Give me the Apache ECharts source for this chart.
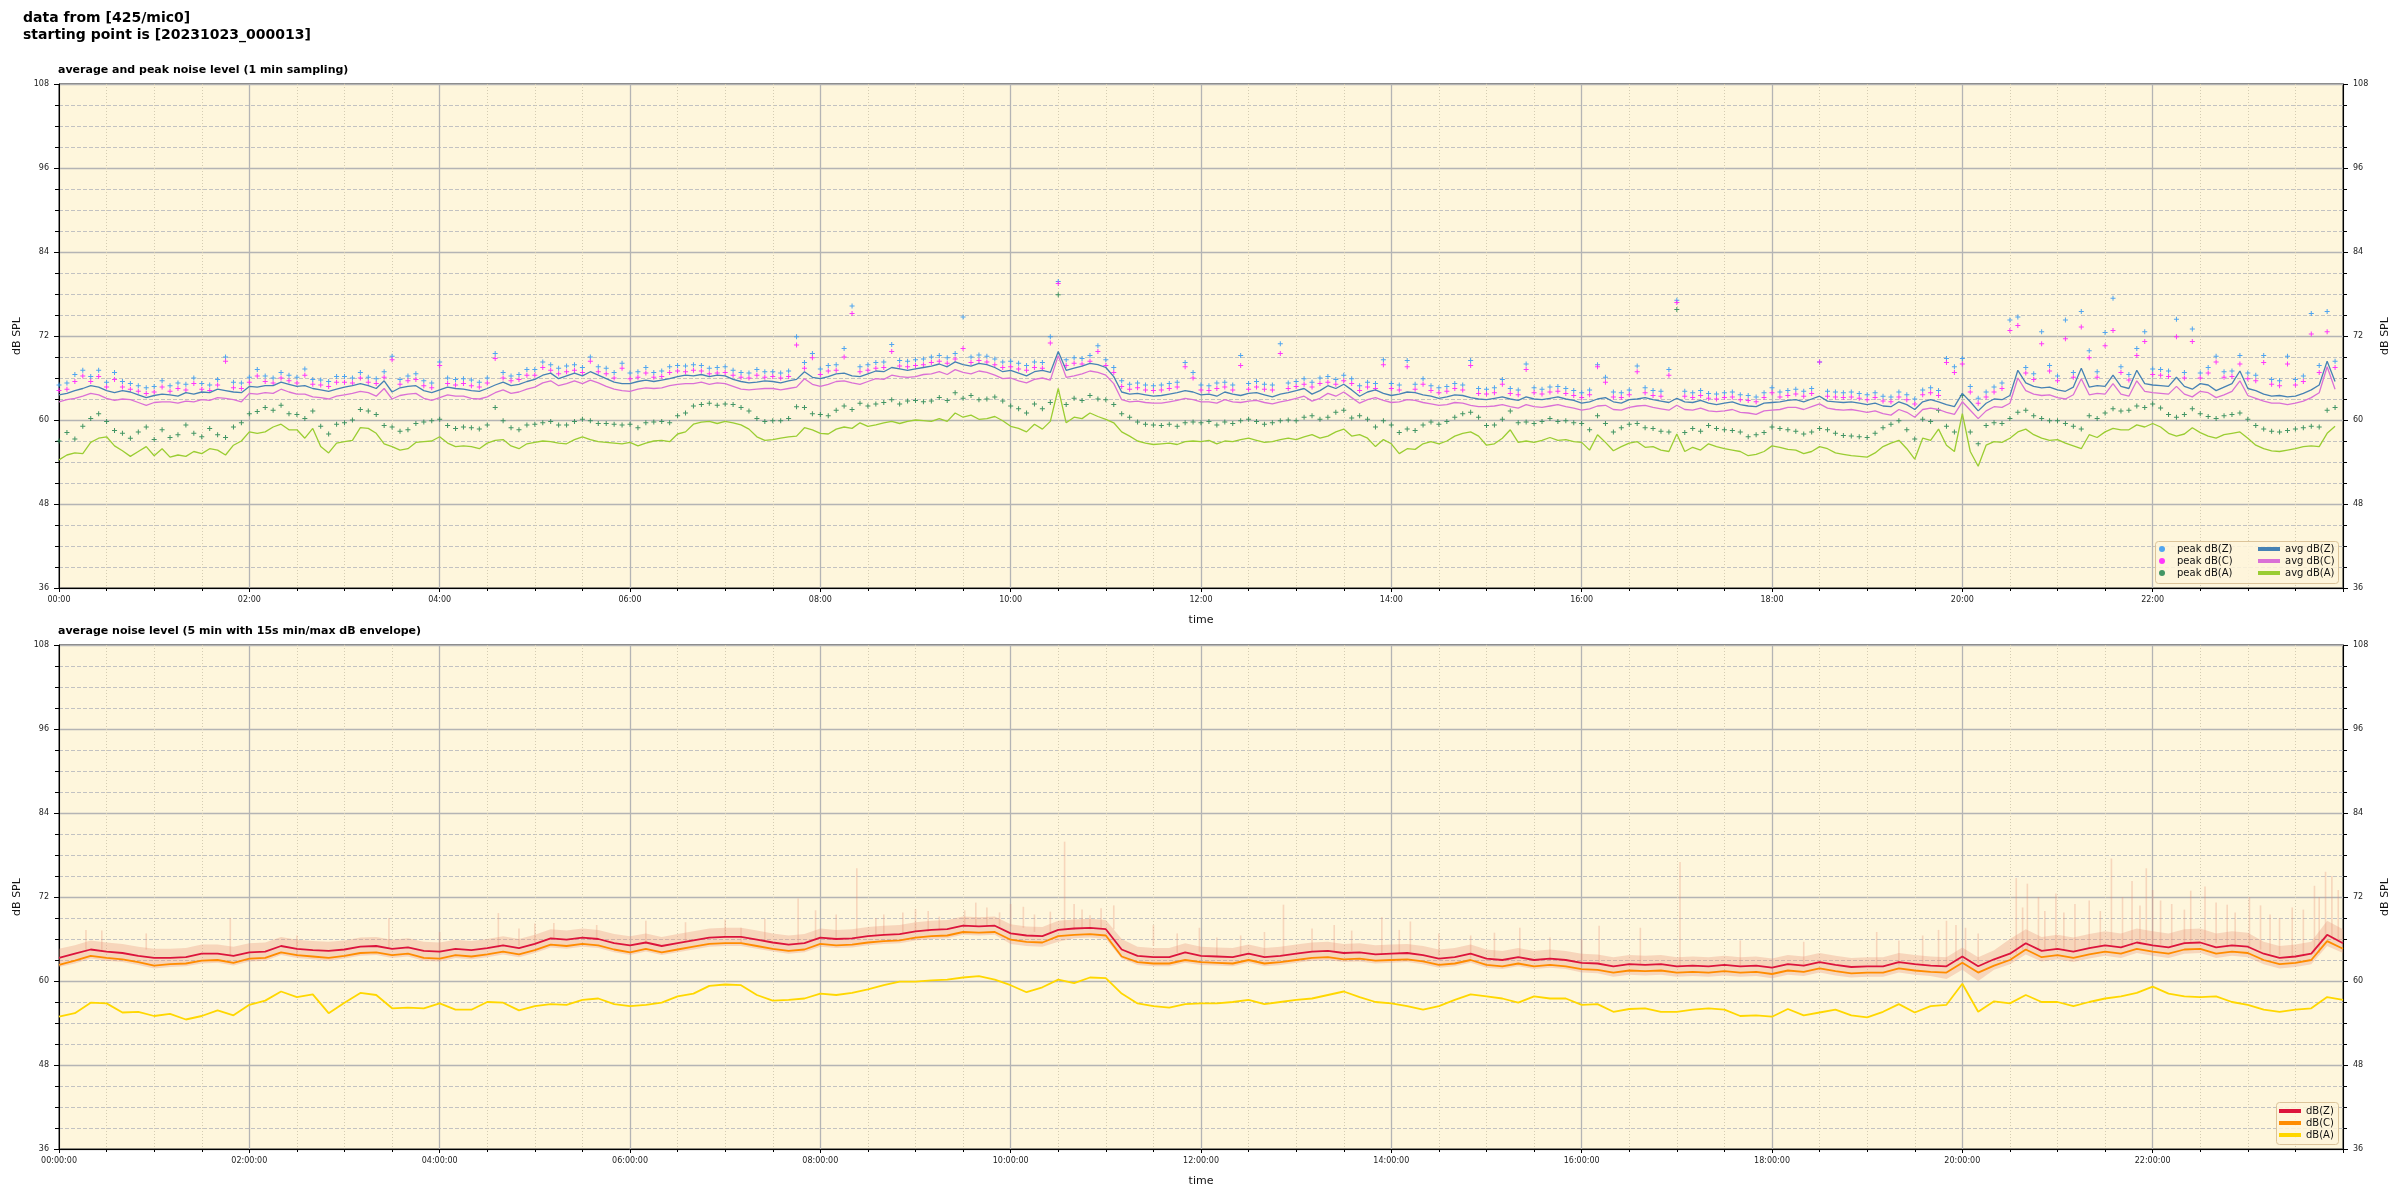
<!DOCTYPE html>
<html><head><meta charset="utf-8">
<script src="https://cdn.jsdelivr.net/npm/echarts@6/dist/echarts.min.js"></script>
<style>html,body{margin:0;padding:0;background:#fff}#chart{width:2400px;height:1200px}</style>
</head><body><div id="chart"></div>
<script>
// ---------- top panel (1 min sampling, read every 5 min) ----------
const avgZ = [63.6,63.8,64.2,64.5,64.9,64.7,64.2,63.9,64.2,64.0,63.6,63.2,
63.5,63.7,63.6,63.4,63.9,63.7,64.0,63.9,64.4,64.2,64.0,63.9,
64.8,64.7,64.9,64.9,65.4,65.1,64.8,64.9,64.5,64.3,64.1,64.4,
64.7,64.9,65.2,64.9,64.5,65.6,64.0,64.6,64.8,64.9,64.2,63.9,
64.3,64.7,64.5,64.4,64.2,64.1,64.5,65.0,65.4,64.9,65.1,65.5,
65.8,66.4,66.7,65.9,66.3,66.7,66.3,66.9,66.4,65.9,65.4,65.2,
65.2,65.5,65.7,65.5,65.7,65.9,66.2,66.4,66.3,66.5,66.2,66.4,
66.3,65.8,65.5,65.3,65.4,65.6,65.5,65.3,65.6,65.8,66.9,66.1,
65.9,66.2,66.6,66.7,66.3,66.2,66.6,67.0,66.9,67.5,67.3,67.1,
67.3,67.5,67.7,68.0,67.6,68.3,67.9,67.7,68.1,67.9,67.5,66.9,
67.1,66.7,66.3,66.9,67.1,66.8,69.8,67.1,67.4,67.7,68.1,67.9,
67.5,66.2,64.0,63.7,63.8,63.6,63.4,63.5,63.7,63.9,64.2,64.0,
63.6,63.7,63.4,64.0,63.7,63.5,63.8,63.9,63.6,63.3,63.7,63.9,
64.2,64.5,63.7,64.2,64.9,64.5,65.1,64.3,63.4,64.0,64.3,63.8,
63.5,63.7,64.0,63.9,63.6,63.4,63.1,63.3,63.6,63.5,63.2,63.0,
62.9,63.1,63.3,63.0,62.8,63.3,63.0,62.9,63.1,63.3,63.0,62.8,
62.4,62.6,63.0,63.2,62.6,62.4,62.9,63.0,63.2,62.9,62.7,62.5,
63.1,62.6,62.5,62.8,62.4,62.2,62.4,62.6,62.2,62.0,61.9,62.4,
62.5,62.6,62.8,62.9,62.6,63.0,63.4,62.7,62.6,62.5,62.6,62.4,
62.2,62.4,62.0,61.9,62.6,62.2,61.5,62.6,62.9,62.6,62.2,61.9,
63.8,62.6,61.3,62.4,63.0,62.9,63.5,67.1,65.3,64.8,64.6,64.7,
64.3,64.1,64.7,67.4,64.7,64.9,64.8,66.4,64.8,64.5,67.1,65.2,
65.0,64.9,64.8,66.1,64.8,64.4,65.2,65.0,64.2,64.7,65.2,67.0,
64.5,64.2,63.7,63.4,63.5,63.3,63.4,63.8,64.3,65.0,68.4,65.5];

const avgC = [62.6,62.9,63.1,63.4,63.8,63.6,63.1,62.8,63.0,62.9,62.5,62.1,
62.5,62.6,62.6,62.4,62.7,62.6,62.9,62.8,63.2,63.1,62.9,62.6,
63.8,63.7,63.9,63.8,64.4,64.0,63.7,63.7,63.3,63.2,63.0,63.4,
63.6,63.8,64.1,63.9,63.4,64.5,63.0,63.5,63.7,63.8,63.1,62.8,
63.2,63.6,63.4,63.4,63.1,63.0,63.3,63.9,64.3,63.8,64.0,64.4,
64.7,65.3,65.6,64.9,65.2,65.6,65.2,65.7,65.3,64.8,64.4,64.2,
64.1,64.4,64.6,64.5,64.6,64.9,65.1,65.2,65.2,65.4,65.1,65.3,
65.2,64.8,64.4,64.3,64.4,64.5,64.5,64.3,64.5,64.7,65.9,65.1,
64.8,65.1,65.5,65.6,65.3,65.1,65.5,65.9,65.8,66.4,66.2,66.1,
66.2,66.5,66.6,66.9,66.5,67.2,66.8,66.6,67.0,66.8,66.4,65.9,
66.0,65.6,65.3,65.8,66.0,65.7,69.2,66.1,66.3,66.6,67.0,66.8,
66.4,65.2,62.9,62.6,62.7,62.5,62.4,62.4,62.6,62.8,63.1,62.9,
62.6,62.6,62.4,62.9,62.6,62.5,62.7,62.8,62.5,62.3,62.6,62.8,
63.1,63.4,62.7,63.1,63.8,63.4,64.0,63.2,62.4,62.9,63.2,62.8,
62.5,62.6,62.9,62.8,62.5,62.3,62.1,62.2,62.5,62.4,62.1,61.9,
61.9,62.0,62.2,61.9,61.7,62.2,61.9,61.8,62.0,62.2,61.9,61.7,
61.4,61.6,62.0,62.1,61.5,61.4,61.8,62.0,62.1,61.8,61.6,61.4,
62.1,61.5,61.4,61.7,61.3,61.2,61.3,61.5,61.1,61.0,60.8,61.3,
61.4,61.5,61.8,61.8,61.5,61.9,62.3,61.7,61.5,61.4,61.5,61.3,
61.1,61.3,60.9,60.7,61.5,61.1,60.4,61.5,61.7,61.5,61.1,60.8,
62.6,61.4,60.2,61.3,61.9,61.8,62.4,66.0,64.2,63.7,63.5,63.6,
63.2,63.0,63.6,65.9,63.6,63.8,63.7,65.2,63.7,63.4,65.6,64.1,
63.9,63.8,63.7,64.8,63.7,63.3,64.1,63.9,63.2,63.6,64.1,65.6,
63.5,63.1,62.7,62.4,62.4,62.2,62.4,62.7,63.2,63.9,67.6,64.4];

const avgA = [54.3,55.0,55.3,55.2,56.8,57.4,57.6,56.3,55.6,54.8,55.5,56.2,
54.9,55.9,54.7,55.0,54.8,55.5,55.2,55.9,55.7,55.0,56.4,57.0,
58.3,58.1,58.3,59.0,59.4,58.6,58.6,57.4,58.8,56.2,55.3,56.7,
56.9,57.1,58.9,58.8,58.1,56.6,56.2,55.7,55.9,56.8,56.9,57.0,
57.6,56.7,56.2,56.3,56.2,55.9,56.7,57.1,57.2,56.3,55.9,56.6,
56.8,57.0,56.9,56.7,56.6,57.2,57.6,57.2,56.9,56.8,56.7,56.6,
56.8,56.3,56.7,57.0,57.1,56.9,58.0,58.3,59.4,59.7,59.8,59.5,
59.8,59.6,59.3,58.7,57.6,57.1,57.2,57.4,57.6,57.7,58.9,58.6,
58.1,58.0,58.7,59.0,58.8,59.6,59.1,59.3,59.6,59.8,59.5,59.8,
60.0,59.9,59.8,60.2,59.8,61.0,60.4,60.7,60.1,60.2,60.5,59.9,
59.1,58.8,58.3,59.4,58.7,59.8,64.5,59.6,60.4,60.2,61.0,60.5,
60.1,59.6,58.3,57.7,57.0,56.7,56.5,56.6,56.7,56.5,56.9,57.0,
56.9,57.1,56.6,57.0,56.9,57.2,57.4,57.1,56.8,56.9,57.2,57.4,
57.2,57.6,57.9,57.4,57.7,58.3,58.7,57.7,57.9,57.4,56.2,57.2,
56.6,55.2,55.9,55.8,56.6,56.9,56.6,57.0,57.7,58.1,58.3,57.7,
56.4,56.6,57.4,58.6,56.8,57.0,56.8,57.1,57.5,57.1,57.2,56.9,
56.8,55.7,57.9,56.8,55.6,56.2,56.7,56.9,56.1,56.2,55.7,55.5,
58.0,55.5,56.1,55.7,56.6,56.2,55.9,55.7,55.5,54.9,55.1,55.5,
56.3,56.1,55.8,55.7,55.2,55.5,56.2,55.9,55.3,55.1,54.9,54.8,
54.7,55.3,56.2,56.7,57.1,55.9,54.4,57.4,57.1,58.7,56.4,55.5,
60.9,55.5,53.4,56.4,56.9,56.8,57.4,58.3,58.7,57.9,57.4,57.1,
57.2,56.7,56.3,55.9,57.9,57.5,58.3,58.8,58.6,58.6,59.3,59.0,
59.5,59.0,58.1,57.7,58.0,58.9,58.2,57.7,57.4,57.9,58.1,58.3,
57.4,56.4,55.9,55.6,55.5,55.7,55.9,56.2,56.3,56.2,58.1,59.1];

const peakZ = [65.0,65.3,66.5,67.1,66.2,67.1,65.4,66.8,65.5,65.2,64.9,64.6,
64.8,65.6,64.9,65.3,65.1,66.0,65.2,65.0,65.8,69.0,65.4,65.3,
66.1,67.2,66.3,66.0,66.8,66.4,66.1,67.3,65.8,65.7,65.5,66.2,
66.2,66.0,66.8,66.1,65.9,66.9,69.1,65.8,66.3,66.6,65.6,65.3,
68.3,66.0,65.8,65.9,65.7,65.4,66.0,69.5,66.8,66.3,66.5,67.2,
67.2,68.3,67.9,67.4,67.7,67.9,67.5,69.0,67.6,67.4,66.8,68.1,
66.7,66.9,67.5,66.8,67.0,67.6,67.8,67.7,67.9,67.8,67.4,67.5,
67.6,67.1,66.8,66.7,67.2,66.9,66.9,66.7,67.0,71.9,68.2,69.5,
67.3,67.8,67.9,70.2,76.3,67.6,67.9,68.2,68.3,70.8,68.5,68.4,
68.6,68.7,69.0,69.2,68.9,69.5,74.7,69.0,69.3,69.1,68.7,68.3,
68.4,68.1,67.8,68.3,68.2,71.9,79.8,68.6,68.9,68.8,69.2,70.6,
68.6,67.5,65.6,65.1,65.3,65.0,64.9,65.0,65.2,65.4,68.2,66.8,
65.0,64.9,65.3,65.4,65.0,69.2,65.2,65.5,65.1,65.0,70.9,65.3,
65.5,65.9,65.4,66.0,66.2,65.8,66.4,65.9,64.9,65.4,65.2,68.6,
65.2,65.0,68.5,65.1,65.9,64.9,64.6,64.8,65.2,65.0,68.5,64.5,
64.4,64.6,65.8,64.5,64.3,68.0,64.6,64.4,64.7,64.8,64.5,64.2,
63.9,64.3,67.9,66.1,64.0,63.9,64.3,67.7,64.6,64.2,64.1,67.2,
77.1,64.1,63.9,64.2,63.8,63.7,63.9,64.0,63.6,63.5,63.3,63.9,
64.6,64.0,64.2,64.4,64.1,64.5,68.3,64.1,64.0,63.9,64.0,63.8,
63.6,63.9,63.4,63.3,64.0,63.6,63.0,64.3,64.6,64.2,68.8,67.6,
68.8,64.8,63.1,64.0,64.7,65.3,74.3,74.7,67.5,66.6,72.6,67.8,
66.3,74.3,66.8,75.5,69.9,66.9,72.5,77.4,67.6,66.5,70.2,72.6,
67.3,67.2,67.0,74.4,66.8,73.0,66.7,67.5,69.1,66.9,67.0,69.2,
66.7,66.4,69.2,65.8,65.6,69.1,65.8,66.3,75.2,67.8,75.5,68.4];

const peakC = [64.2,64.4,65.5,66.3,65.5,66.2,64.7,65.8,64.7,64.4,64.1,63.8,
64.0,64.7,64.1,64.5,64.3,65.2,64.4,64.2,65.0,68.4,64.6,64.5,
65.4,66.3,65.5,65.3,66.0,65.6,65.3,66.4,65.1,65.0,64.8,65.4,
65.4,65.3,66.0,65.4,65.2,66.1,68.6,65.1,65.6,65.8,64.9,64.6,
67.8,65.2,65.0,65.2,64.9,64.7,65.3,68.8,66.0,65.6,65.8,66.4,
66.4,67.5,67.1,66.6,66.9,67.1,66.8,68.4,66.9,66.6,66.0,67.4,
65.9,66.1,66.7,66.1,66.2,66.8,67.0,66.9,67.1,67.0,66.6,66.7,
66.8,66.4,66.1,66.0,66.4,66.1,66.2,66.0,66.2,70.7,67.4,68.9,
66.5,67.0,67.1,69.0,75.2,66.9,67.1,67.4,67.5,69.8,67.7,67.6,
67.8,67.9,68.2,68.4,68.1,68.7,70.2,68.2,68.5,68.3,67.9,67.5,
67.6,67.3,67.1,67.5,67.4,71.0,79.5,67.8,68.1,68.0,68.4,69.8,
67.8,66.8,64.8,64.4,64.6,64.3,64.2,64.3,64.5,64.7,67.6,66.0,
64.3,64.2,64.5,64.7,64.3,67.8,64.4,64.7,64.4,64.3,69.5,64.5,
64.8,65.1,64.7,65.2,65.4,65.1,65.6,65.2,64.2,64.7,64.5,67.9,
64.5,64.3,67.6,64.4,65.1,64.2,63.9,64.1,64.5,64.3,67.8,63.8,
63.7,63.9,65.1,63.8,63.6,67.2,63.9,63.7,64.0,64.1,63.8,63.5,
63.2,63.6,67.6,65.4,63.3,63.2,63.6,66.9,63.9,63.5,63.4,66.4,
76.8,63.4,63.2,63.5,63.1,63.0,63.2,63.3,62.9,62.8,62.6,63.2,
63.9,63.3,63.5,63.7,63.4,63.8,68.3,63.4,63.3,63.2,63.3,63.1,
62.9,63.2,62.7,62.6,63.3,62.9,62.3,63.6,63.9,63.5,68.2,66.8,
68.0,64.0,62.4,63.3,64.0,64.5,72.8,73.5,66.7,65.8,70.9,67.0,
65.6,71.6,66.1,73.3,68.9,66.1,70.6,72.8,66.8,65.7,69.2,71.2,
66.5,66.4,66.2,71.9,66.0,71.2,66.0,66.7,68.3,66.1,66.2,68.0,
65.9,65.6,68.2,65.1,64.9,68.0,65.0,65.5,72.3,66.8,72.6,67.5];

const peakA = [57.0,58.2,57.3,59.1,60.2,60.9,59.8,58.5,58.1,57.4,58.3,59.0,
57.2,58.6,57.5,57.9,59.3,58.1,57.6,58.8,57.9,57.5,59.0,59.6,
60.9,61.2,61.8,61.4,62.1,60.9,60.8,60.2,61.3,59.1,58.0,59.4,
59.6,60.0,61.5,61.3,60.8,59.2,59.0,58.4,58.6,59.5,59.7,59.9,
60.1,59.2,58.8,59.0,58.9,58.7,59.3,61.8,59.9,58.9,58.6,59.3,
59.4,59.6,59.8,59.3,59.3,59.8,60.1,59.9,59.5,59.5,59.4,59.3,
59.4,58.9,59.6,59.7,59.8,59.6,60.6,61.0,62.0,62.2,62.4,62.1,
62.3,62.2,61.8,61.3,60.2,59.8,59.9,59.9,60.2,61.9,61.8,60.9,
60.8,60.6,61.4,62.0,61.5,62.4,62.0,62.3,62.5,62.9,62.3,62.7,
62.8,62.6,62.7,63.2,62.8,63.9,63.1,63.5,62.9,63.0,63.3,62.7,
62.0,61.6,61.0,62.3,61.6,62.5,77.9,62.2,63.1,62.8,63.5,63.0,
62.9,62.2,60.9,60.4,59.7,59.4,59.3,59.2,59.4,59.1,59.6,59.7,
59.6,59.8,59.3,59.7,59.5,59.9,60.1,59.8,59.4,59.6,59.9,60.0,
59.9,60.4,60.6,60.1,60.4,61.1,61.4,60.3,60.6,60.1,59.0,59.9,
59.3,58.2,58.7,58.5,59.3,59.7,59.4,59.8,60.4,60.9,61.1,60.4,
59.2,59.3,60.1,61.3,59.6,59.7,59.5,59.8,60.2,59.8,59.9,59.6,
59.5,58.6,60.6,59.5,58.3,58.9,59.4,59.5,58.9,58.8,58.4,58.3,
75.8,58.2,58.8,58.4,59.2,58.8,58.6,58.5,58.3,57.6,57.9,58.2,
59.0,58.8,58.6,58.4,58.0,58.3,58.8,58.6,58.1,57.8,57.7,57.6,
57.5,58.1,58.9,59.4,59.9,58.6,57.3,60.1,59.8,61.4,59.1,58.3,
63.5,58.3,56.6,59.2,59.6,59.5,60.2,61.1,61.4,60.6,60.2,59.9,
59.9,59.5,59.1,58.7,60.6,60.2,61.0,61.6,61.3,61.4,62.0,61.8,
62.3,61.7,60.8,60.4,60.8,61.6,60.9,60.5,60.2,60.6,60.8,61.0,
60.1,59.2,58.7,58.4,58.3,58.5,58.7,58.9,59.1,59.0,61.4,61.8];

// ---------- bottom panel (5 min averages, read every 10 min) ----------
const botZ = [63.3,63.9,64.5,64.2,64.0,63.6,63.3,63.3,63.4,63.9,63.9,63.6,
64.1,64.2,65.0,64.6,64.4,64.3,64.5,64.9,65.0,64.6,64.8,64.3,
64.2,64.6,64.4,64.7,65.1,64.7,65.3,66.1,65.9,66.2,66.0,65.4,
65.1,65.5,65.0,65.4,65.8,66.2,66.3,66.3,65.9,65.5,65.2,65.4,
66.2,66.0,66.1,66.4,66.6,66.7,67.1,67.3,67.4,67.9,67.8,67.9,
66.8,66.5,66.4,67.3,67.5,67.6,67.4,64.5,63.6,63.4,63.4,64.1,
63.6,63.5,63.4,63.9,63.4,63.6,63.9,64.2,64.3,64.0,64.1,63.8,
63.9,64.0,63.7,63.2,63.4,63.9,63.2,63.0,63.4,63.0,63.2,63.0,
62.6,62.5,62.1,62.4,62.3,62.4,62.1,62.2,62.1,62.3,62.1,62.2,
61.9,62.4,62.2,62.7,62.3,62.0,62.1,62.1,62.7,62.4,62.2,62.1,
63.5,62.1,63.1,63.9,65.4,64.3,64.6,64.2,64.7,65.1,64.8,65.5,
65.1,64.8,65.4,65.5,64.8,65.1,64.9,63.9,63.3,63.5,63.9,66.6,65.4];

const botC = [62.3,62.9,63.6,63.3,63.1,62.7,62.2,62.4,62.5,62.9,63.0,62.6,
63.2,63.3,64.1,63.7,63.5,63.3,63.6,64.0,64.1,63.7,63.9,63.3,
63.2,63.7,63.5,63.8,64.2,63.8,64.4,65.2,65.0,65.3,65.1,64.5,
64.1,64.6,64.1,64.5,64.9,65.3,65.4,65.4,65.0,64.6,64.3,64.5,
65.3,65.1,65.2,65.5,65.7,65.8,66.2,66.4,66.5,67.0,66.9,67.0,
65.9,65.6,65.5,66.4,66.6,66.7,66.5,63.5,62.7,62.5,62.5,63.0,
62.7,62.6,62.5,63.0,62.5,62.7,63.0,63.3,63.4,63.1,63.2,62.9,
63.0,63.1,62.8,62.3,62.5,63.0,62.3,62.1,62.5,62.1,62.3,62.1,
61.7,61.6,61.2,61.5,61.4,61.5,61.2,61.3,61.2,61.4,61.2,61.3,
61.0,61.5,61.3,61.8,61.4,61.1,61.2,61.2,61.8,61.5,61.3,61.2,
62.6,61.2,62.2,63.0,64.5,63.4,63.7,63.3,63.8,64.2,63.9,64.6,
64.2,63.9,64.5,64.6,63.9,64.2,64.0,63.0,62.4,62.6,63.0,65.7,64.6];

const botA = [54.9,55.4,56.9,56.8,55.5,55.6,55.0,55.3,54.5,55.0,55.8,55.1,
56.6,57.2,58.5,57.7,58.1,55.4,56.9,58.3,58.0,56.1,56.2,56.1,
56.8,55.9,55.9,57.0,56.9,55.8,56.4,56.7,56.6,57.3,57.5,56.7,
56.4,56.6,56.9,57.8,58.2,59.3,59.5,59.4,58.0,57.2,57.3,57.5,
58.2,58.0,58.3,58.8,59.4,59.9,59.9,60.1,60.2,60.5,60.7,60.2,
59.4,58.4,59.1,60.2,59.7,60.5,60.4,58.2,56.8,56.4,56.2,56.7,
56.8,56.8,57.0,57.3,56.7,57.0,57.3,57.5,58.0,58.5,57.7,57.0,
56.8,56.4,55.9,56.4,57.3,58.1,57.8,57.5,56.9,57.8,57.5,57.5,
56.6,56.7,55.6,56.0,56.1,55.6,55.6,55.9,56.1,55.9,55.0,55.1,
54.9,56.0,55.1,55.5,55.9,55.1,54.8,55.6,56.7,55.5,56.4,56.6,
59.6,55.6,57.1,56.8,58.0,57.0,57.0,56.4,57.0,57.5,57.8,58.3,
59.2,58.2,57.8,57.7,57.8,57.0,56.6,55.9,55.6,55.9,56.1,57.7,57.3];

// 15 s min/max envelope (10 min readings) and its narrow spikes [minute, low, high]
const envMax = [64.6,65.1,65.8,65.5,65.3,64.9,64.6,64.6,64.7,65.2,65.2,64.9,
65.4,65.5,66.3,65.9,65.7,65.6,65.8,66.2,66.3,65.9,66.1,65.6,
65.5,65.9,65.7,66.0,66.4,66.0,66.6,67.4,67.2,67.5,67.3,66.7,
66.4,66.8,66.3,66.7,67.1,67.5,67.6,67.6,67.2,66.8,66.5,66.7,
67.5,67.3,67.4,67.7,67.9,68.0,68.4,68.6,68.7,69.2,69.1,69.2,
68.1,67.8,67.7,68.6,68.8,68.9,68.7,66.0,64.9,64.7,64.7,65.4,
64.9,64.8,64.7,65.2,64.7,64.9,65.2,65.5,65.6,65.3,65.4,65.1,
65.2,65.3,65.0,64.5,64.7,65.2,64.5,64.3,64.7,64.3,64.5,64.3,
63.9,63.8,63.4,63.7,63.6,63.7,63.4,63.5,63.4,63.6,63.4,63.5,
63.2,63.7,63.5,64.0,63.6,63.3,63.4,63.4,64.0,63.7,63.5,63.4,
64.8,63.4,64.4,66.0,67.4,66.3,66.6,66.2,66.7,67.1,66.8,67.5,
67.1,66.8,67.4,67.5,66.8,67.1,66.9,65.6,65.0,65.2,65.6,68.6,67.4];

const envMin = [62.0,62.5,63.2,62.9,62.7,62.3,61.8,62.0,62.1,62.5,62.6,62.2,
62.8,62.9,63.7,63.3,63.1,62.9,63.2,63.6,63.7,63.3,63.5,62.9,
62.8,63.3,63.1,63.4,63.8,63.4,64.0,64.8,64.6,64.9,64.7,64.1,
63.7,64.2,63.7,64.1,64.5,64.9,65.0,65.0,64.6,64.2,63.9,64.1,
64.9,64.7,64.8,65.1,65.3,65.4,65.8,66.0,66.1,66.6,66.5,66.6,
65.3,65.0,64.9,65.6,66.1,66.2,66.0,63.2,62.3,62.1,62.1,62.6,
62.3,62.2,62.1,62.6,62.1,62.3,62.6,62.9,63.0,62.7,62.8,62.5,
62.6,62.7,62.4,61.9,62.1,62.6,61.9,61.7,62.1,61.7,61.9,61.7,
61.2,61.1,60.6,60.9,60.8,60.9,60.6,60.7,60.6,60.8,60.6,60.7,
60.4,60.9,60.7,61.2,60.8,60.5,60.6,60.6,61.2,60.9,60.7,60.3,
61.6,60.0,61.6,62.4,63.8,62.8,63.1,62.7,63.2,63.6,63.3,64.0,
63.6,63.3,63.9,64.0,63.3,63.6,63.4,62.4,61.8,62.0,62.4,65.0,64.0];

const envSpikes = [[17,64.2,67.3],[27,64.2,67.2],[55,64.5,66.8],[108,63.6,69.0],[150,63.5,66.5],
[208,64.6,69.0],[240,64.3,67.0],[277,64.7,69.7],[290,65.0,67.5],[300,65.5,68.2],
[312,66.0,68.3],[339,66.0,68.0],[370,65.5,68.6],[395,65.6,68.4],[420,66.2,68.8],[430,65.5,67.6],
[445,65.8,68.9],[466,65.4,71.8],[477,65.8,70.1],[490,66.0,69.5],[503,66.1,76.1],[515,66.4,69.0],
[520,66.5,69.5],[532,66.7,69.8],[540,67.0,70.3],[548,67.0,70.0],[555,67.3,69.2],[571,67.9,70.1],
[578,67.8,71.2],[585,67.8,70.5],[593,67.8,69.8],[600,67.8,71.0],[608,67.6,70.6],[615,67.0,69.5],
[625,67.0,69.9],[634,67.3,79.9],[640,67.3,71.0],[645,67.4,70.2],[650,67.4,69.4],[657,67.4,70.4],
[665,67.4,70.8],[690,65.0,68.0],[705,64.0,66.8],[719,64.1,67.6],[730,63.5,66.2],[745,63.5,66.5],
[760,63.4,67.0],[772,63.6,70.9],[790,64.2,67.5],[804,64.3,68.0],[815,64.3,67.2],[834,63.8,69.1],
[845,64.0,67.3],[852,64.0,68.5],[870,63.6,66.8],[890,63.2,66.5],[905,63.4,66.9],[921,63.4,67.6],
[940,63.0,66.2],[960,62.6,66.0],[971,62.5,67.9],[997,62.4,67.6],[1022,62.1,77.0],[1060,62.2,65.8],
[1100,62.1,65.6],[1146,62.1,67.0],[1160,62.2,65.8],[1175,62.2,66.5],[1185,62.2,67.3],[1190,62.1,68.6],
[1196,63.0,68.0],[1202,63.5,67.6],[1210,62.5,66.8],[1234,63.9,74.7],[1238,64.5,70.5],[1241,64.5,73.9],
[1248,64.5,72.0],[1252,64.5,70.0],[1259,64.6,72.5],[1264,64.4,69.8],[1271,64.2,71.0],[1280,64.6,71.5],
[1287,64.8,70.0],[1294,65.1,77.5],[1301,65.0,72.0],[1307,65.0,74.3],[1312,65.2,70.8],[1316,65.5,76.1],
[1320,65.3,73.0],[1325,65.2,71.5],[1332,65.0,71.0],[1340,65.2,70.2],[1344,65.4,72.9],[1353,65.5,73.5],
[1360,65.4,71.2],[1367,64.8,70.9],[1372,64.8,69.8],[1381,64.9,72.0],[1388,64.5,70.8],[1394,63.9,69.5],
[1400,63.6,69.0],[1408,63.4,70.5],[1415,63.5,70.2],[1422,63.9,73.6],[1425,64.0,72.0],[1429,66.0,75.6],
[1433,66.0,75.0],[1437,65.6,73.0]];

const topMinutes = avgZ.map((_, i) => i * 5);
const botMinutes = botZ.map((_, i) => i * 10);

// ---------- styling ----------
const FONT = 'DejaVu Sans';
const PLUS = 'path://M2,0H3V2H5V3H3V5H2V3H0V2H2Z';
const ENV = 'rgba(233,150,122,0.33)';
const BG = '#fef6dc';
function pad(n) { return (n < 10 ? '0' : '') + n; }
function fmtHM(v) { return pad(Math.floor(v / 60)) + ':' + pad(v % 60); }
function fmtHMS(v) { return fmtHM(v) + ':00'; }

function xAxisCfg(gi, fmt) {
  return {
    type: 'value', gridIndex: gi, min: 0, max: 1440, interval: 120,
    axisLine: { show: true, onZero: false, lineStyle: { color: '#000', width: 1 } },
    axisTick: { show: true, length: 4, lineStyle: { color: '#000' } },
    minorTick: { show: true, splitNumber: 4, length: 3, lineStyle: { color: '#000' } },
    axisLabel: { formatter: fmt, fontSize: 8, fontFamily: FONT, color: '#222', margin: 8, showMaxLabel: false },
    splitLine: { show: true, lineStyle: { color: '#b4b4b4', width: 1.3 } },
    minorSplitLine: { show: true, lineStyle: { color: '#d4ccb2', width: 1, type: [1, 2] } },
    name: 'time', nameLocation: 'middle', nameGap: 27,
    nameTextStyle: { fontSize: 11, fontFamily: FONT, color: '#111' }
  };
}
function yAxisCfg(gi, right) {
  return {
    type: 'value', gridIndex: gi, min: 36, max: 108, interval: 12,
    position: right ? 'right' : 'left',
    axisLine: { show: true, onZero: false, lineStyle: { color: '#000', width: 1 } },
    axisTick: { show: true, length: 5, lineStyle: { color: '#000' } },
    minorTick: { show: true, splitNumber: 4, length: 4, lineStyle: { color: '#000' } },
    axisLabel: { fontSize: 8, fontFamily: FONT, color: '#222', margin: 10 },
    splitLine: { show: !right, lineStyle: { color: '#b4b4b4', width: 1.3 } },
    minorSplitLine: { show: !right, lineStyle: { color: '#c2c2c2', width: 1, type: [4, 2] } },
    name: 'dB SPL', nameLocation: 'middle', nameGap: right ? 34 : 34,
    nameTextStyle: { fontSize: 11, fontFamily: FONT, color: '#111' }
  };
}
function pairs(ts, vs) { return ts.map((t, i) => [t, vs[i]]); }
function scatter(name, vals, color) {
  return { name, type: 'scatter', xAxisIndex: 0, yAxisIndex: 0, data: pairs(topMinutes, vals),
    symbol: PLUS, symbolSize: 5, itemStyle: { color, opacity: 0.9 }, z: 2 };
}
function line(name, gi, ts, vals, color, w) {
  return { name, type: 'line', xAxisIndex: gi, yAxisIndex: gi * 2, data: pairs(ts, vals),
    symbol: 'none', showSymbol: false, lineStyle: { color, width: w }, itemStyle: { color }, z: 3 };
}
const legendText = { fontSize: 10, fontFamily: FONT, color: '#111', lineHeight: 12 };

const option = {
  animation: false,
  backgroundColor: '#fff',
  title: [
    { text: 'data from [425/mic0]\nstarting point is [20231023_000013]', left: 23, top: 10, padding: 0,
      textStyle: { fontSize: 14, fontWeight: 'bold', fontFamily: FONT, color: '#000', lineHeight: 17 } },
    { text: 'average and peak noise level (1 min sampling)', left: 58, top: 65, padding: 0,
      textStyle: { fontSize: 11, fontWeight: 'bold', fontFamily: FONT, color: '#000' } },
    { text: 'average noise level (5 min with 15s min/max dB envelope)', left: 58, top: 626, padding: 0,
      textStyle: { fontSize: 11, fontWeight: 'bold', fontFamily: FONT, color: '#000' } }
  ],
  grid: [
    { left: 59, top: 84, width: 2284, height: 504, show: true, backgroundColor: BG, borderColor: '#000', borderWidth: 1 },
    { left: 59, top: 645, width: 2284, height: 504, show: true, backgroundColor: BG, borderColor: '#000', borderWidth: 1 }
  ],
  xAxis: [xAxisCfg(0, fmtHM), xAxisCfg(1, fmtHMS)],
  yAxis: [yAxisCfg(0, false), yAxisCfg(0, true), yAxisCfg(1, false), yAxisCfg(1, true)],
  graphic: [
    { type: 'rect', left: 2155, top: 541, z: 50, shape: { width: 183, height: 42, r: 3 },
      style: { fill: 'rgba(254,244,218,0.85)', stroke: '#dcc49a', lineWidth: 1 } },
    { type: 'rect', left: 2276, top: 1102, z: 50, shape: { width: 62, height: 42, r: 3 },
      style: { fill: 'rgba(254,244,218,0.85)', stroke: '#dcc49a', lineWidth: 1 } }
  ],
  legend: [
    { data: [{ name: 'peak dB(Z)', icon: 'circle' }, { name: 'peak dB(C)', icon: 'circle' }, { name: 'peak dB(A)', icon: 'circle' }],
      orient: 'vertical', left: 2159, top: 543, itemWidth: 20, itemHeight: 6, itemGap: 0, padding: 0,
      selectedMode: false, textStyle: legendText, z: 60 },
    { data: [{ name: 'avg dB(Z)', icon: 'rect' }, { name: 'avg dB(C)', icon: 'rect' }, { name: 'avg dB(A)', icon: 'rect' }],
      orient: 'vertical', left: 2258, top: 543, itemWidth: 22, itemHeight: 4, itemGap: 0, padding: 0,
      selectedMode: false, textStyle: legendText, z: 60 },
    { data: [{ name: 'dB(Z)', icon: 'rect' }, { name: 'dB(C)', icon: 'rect' }, { name: 'dB(A)', icon: 'rect' }],
      orient: 'vertical', left: 2279, top: 1105, itemWidth: 22, itemHeight: 4, itemGap: 0, padding: 0,
      selectedMode: false, textStyle: legendText, z: 60 }
  ],
  series: [
    scatter('peak dB(Z)', peakZ, '#3d9cf2'),
    scatter('peak dB(C)', peakC, '#ff22ff'),
    scatter('peak dB(A)', peakA, '#2e8b57'),
    line('avg dB(Z)', 0, topMinutes, avgZ, '#4682b4', 1.3),
    line('avg dB(C)', 0, topMinutes, avgC, '#da70d6', 1.3),
    line('avg dB(A)', 0, topMinutes, avgA, '#9acd32', 1.3),
    {
      type: 'custom', xAxisIndex: 1, yAxisIndex: 2, silent: true, clip: true, z: 1,
      data: botMinutes.map((t, i) => [t, envMin[i], envMax[i]]),
      encode: { x: 0, y: [1, 2] },
      renderItem: function (params, api) {
        if (params.dataIndex !== 0) return null;
        const top = [], bot = [];
        for (let i = 0; i < botMinutes.length; i++) {
          top.push(api.coord([botMinutes[i], envMax[i]]));
          bot.push(api.coord([botMinutes[i], envMin[i]]));
        }
        return { type: 'polygon', shape: { points: top.concat(bot.reverse()) }, style: { fill: ENV } };
      }
    },
    {
      type: 'custom', xAxisIndex: 1, yAxisIndex: 2, silent: true, clip: true, z: 1,
      data: envSpikes, encode: { x: 0, y: [1, 2] },
      renderItem: function (params, api) {
        const a = api.coord([api.value(0), api.value(1)]);
        const b = api.coord([api.value(0), api.value(2)]);
        return { type: 'line', shape: { x1: a[0], y1: a[1], x2: b[0], y2: b[1] }, style: { stroke: ENV, lineWidth: 1.6 } };
      }
    },
    line('dB(Z)', 1, botMinutes, botZ, '#dc143c', 1.8),
    line('dB(C)', 1, botMinutes, botC, '#ff8c00', 1.8),
    line('dB(A)', 1, botMinutes, botA, '#ffd700', 1.8)
  ]
};
const chart = echarts.init(document.getElementById('chart'), null, { renderer: 'canvas' });
chart.setOption(option);
</script>
</body></html>
